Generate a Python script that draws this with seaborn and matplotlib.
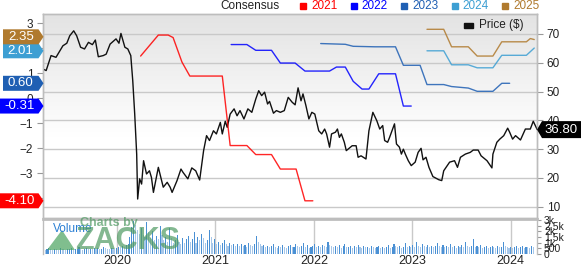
import numpy as np
import pandas as pd
import matplotlib
matplotlib.use("Agg")
import matplotlib.pyplot as plt
import seaborn as sns
from matplotlib.patches import Polygon, Rectangle
from matplotlib.transforms import IdentityTransform

sns.set_theme(style="white")
plt.rcParams['font.family'] = ['Liberation Sans', 'DejaVu Sans']

# ---------------- data ----------------
price_t = [2019.25, 2019.28, 2019.33, 2019.38, 2019.45, 2019.49, 2019.52, 2019.56, 2019.59, 2019.63,
           2019.67, 2019.71, 2019.75, 2019.78, 2019.81, 2019.86, 2019.89, 2019.93, 2019.99,
           2020.02, 2020.04, 2020.08, 2020.11, 2020.14, 2020.16, 2020.18, 2020.20, 2020.21, 2020.23,
           2020.25, 2020.27, 2020.30, 2020.33, 2020.35, 2020.37, 2020.42, 2020.47, 2020.51, 2020.54,
           2020.56, 2020.61, 2020.65, 2020.67, 2020.72, 2020.76, 2020.80, 2020.84, 2020.88, 2020.91,
           2020.94, 2020.98,
           2021.01, 2021.05, 2021.07, 2021.10, 2021.12, 2021.15, 2021.19, 2021.22, 2021.25, 2021.29,
           2021.33, 2021.37, 2021.41, 2021.44, 2021.47, 2021.50, 2021.53, 2021.55, 2021.59, 2021.62,
           2021.66, 2021.70, 2021.74, 2021.78, 2021.81, 2021.84, 2021.87, 2021.89, 2021.92, 2021.95,
           2021.98,
           2022.01, 2022.05, 2022.08, 2022.11, 2022.13, 2022.16, 2022.18, 2022.22, 2022.24, 2022.26,
           2022.28, 2022.31, 2022.33, 2022.39, 2022.43, 2022.45, 2022.48, 2022.53, 2022.56, 2022.60,
           2022.64, 2022.67, 2022.70, 2022.72, 2022.75, 2022.77, 2022.82, 2022.84, 2022.87, 2022.89,
           2022.91, 2022.93, 2022.96, 2022.99,
           2023.03, 2023.06, 2023.09, 2023.11, 2023.14, 2023.17, 2023.21, 2023.27, 2023.30, 2023.32,
           2023.38, 2023.43, 2023.46, 2023.49, 2023.54, 2023.59, 2023.62, 2023.67, 2023.70, 2023.76,
           2023.81, 2023.82, 2023.86, 2023.89, 2023.93, 2023.97, 2023.99,
           2024.02, 2024.05, 2024.10, 2024.15, 2024.20, 2024.23, 2024.27]
price_v = [57.8, 57.3, 62.5, 61.9, 65.9, 66.8, 69.4, 71.1, 69.4, 65.4,
           64.8, 67.1, 66.3, 67.9, 62.1, 62.5, 63.0, 66.5, 68.3,
           66.8, 70.2, 65.4, 64.8, 62.5, 53.8, 42.2, 28.3, 12.7, 19.7,
           17.9, 26.0, 21.4, 22.5, 20.2, 15.0, 23.7, 16.8, 18.5, 16.8,
           15.0, 19.1, 23.1, 22.0, 19.7, 23.5, 22.5, 19.3, 29.5, 34.7,
           33.0, 36.4,
           35.3, 39.3, 35.3, 39.7, 37.6, 42.2, 44.0, 41.6, 43.4, 40.5,
           44.0, 42.8, 47.4, 50.3, 48.6, 49.8, 45.7, 46.6, 42.5, 43.4,
           42.8, 43.4, 48.0, 46.3, 45.4, 51.3, 46.8, 49.2, 45.1, 40.5,
           42.8,
           42.2, 36.4, 35.3, 37.0, 35.3, 30.7, 35.3, 35.9, 37.0, 34.1,
           35.3, 32.4, 29.5, 31.2, 31.2, 27.2, 27.7, 26.6, 36.4, 42.8,
           39.9, 37.0, 38.2, 33.0, 32.4, 34.1, 38.8, 31.8, 30.7, 28.3,
           30.0, 28.3, 26.0, 24.3,
           25.5, 28.9, 30.3, 26.3, 27.2, 23.7, 20.5, 19.4, 19.1, 22.5,
           25.5, 26.0, 23.7, 27.2, 28.3, 28.9, 29.7, 29.7, 27.7, 26.0,
           23.5, 28.3, 32.4, 33.5, 34.7, 37.3, 35.9,
           33.5, 34.7, 33.2, 37.0, 37.0, 39.7, 36.8]

eps21_t = [2020.24, 2020.42, 2020.52, 2020.57, 2020.66, 2020.74, 2021.07, 2021.15, 2021.32, 2021.41,
           2021.57, 2021.66, 2021.82, 2021.91, 2021.99]
eps21_v = [1.69, 2.53, 2.53, 2.43, 1.45, 0.89, 0.89, -1.89, -1.89, -2.25, -2.25, -2.83, -2.83, -4.10, -4.10]

eps22_t = [2021.16, 2021.32, 2021.41, 2021.57, 2021.66, 2021.81, 2021.91, 2022.16, 2022.23, 2022.32,
           2022.40, 2022.49, 2022.56, 2022.66, 2022.83, 2022.91, 2022.99]
eps22_v = [2.15, 2.15, 1.92, 1.92, 1.41, 1.41, 1.09, 1.09, 1.25, 1.25, 0.68, 0.37, 0.37, 0.98, 0.98, -0.31, -0.31]

eps23_t = [2022.07, 2022.32, 2022.40, 2022.62, 2022.83, 2022.91, 2023.08, 2023.15, 2023.32, 2023.40,
           2023.57, 2023.66, 2023.82, 2023.91, 2023.99]
eps23_v = [2.19, 2.16, 2.08, 2.06, 2.06, 1.32, 1.32, 0.55, 0.55, 0.47, 0.41, 0.28, 0.28, 0.60, 0.60]

eps24_t = [2023.15, 2023.32, 2023.40, 2023.57, 2023.66, 2023.82, 2023.91, 2024.16, 2024.24]
eps24_v = [1.90, 1.90, 1.34, 1.34, 1.22, 1.22, 1.72, 1.72, 2.01]

eps25_t = [2023.15, 2023.32, 2023.40, 2023.57, 2023.66, 2023.82, 2023.91, 2024.16, 2024.20, 2024.24]
eps25_v = [2.76, 2.76, 2.06, 2.06, 1.69, 1.69, 2.26, 2.26, 2.39, 2.35]

series_names = ["2021", "2022", "2023", "2024", "2025"]
series_colors = ["#ff0000", "#0000ff", "#1f5fb3", "#3d9fd3", "#b07a2e"]

vol_start = 2019.25
vol_v = [420, 380, 450, 520, 400, 360, 480, 430, 390, 510, 450, 400, 370,
         410, 460, 520, 390, 430, 480, 600, 420, 380, 450, 500, 440, 470,
         420, 510, 480, 550, 430, 460, 600, 520, 480, 440, 560, 500, 470,
         520, 610, 580, 700, 650, 800, 900, 1500, 2400, 2900, 2600, 2100, 1800,
         2300, 1700, 1500, 2800, 1900, 1400, 2000, 1200, 1600, 1300, 2500, 1700, 1200,
         1500, 1100, 2300, 1400, 1000, 1200, 1700, 1100, 900, 1400, 1000, 1300, 1600,
         1100, 1300, 1900, 1000, 1500, 1200, 1800, 1400, 1000, 1200, 2100, 1500, 1000,
         1300, 900, 1100, 800, 1000, 1200, 900, 700, 1000, 800, 900, 700, 850,
         750, 900, 700, 800, 650, 1000, 800, 750, 900, 1600, 1100, 900, 700,
         800, 650, 750, 600, 700, 900, 650, 550, 700, 600, 800, 650, 550,
         700, 800, 600, 650, 900, 750, 600, 700, 1000, 650, 800, 550, 600,
         700, 900, 650, 750, 600, 800, 700, 650, 1100, 800, 700, 600, 750,
         650, 800, 550, 700, 900, 600, 650, 750, 550, 700, 600, 800, 650,
         550, 700, 600, 650, 500, 750, 600, 550, 650, 700, 500, 600, 550,
         600, 800, 550, 650, 900, 700, 600, 750, 550, 650, 1000, 600, 700,
         650, 800, 600, 1100, 750, 650, 900, 700, 600, 800, 650, 750, 600,
         700, 1000, 750, 600, 800, 650, 700, 600, 900, 650, 750, 550, 700,
         600, 800, 650, 1100, 700, 600, 750, 1300, 650, 700, 600, 800, 550,
         650, 700, 550, 600, 750, 650, 550, 700, 600, 650, 1100, 700, 600,
         550, 600, 500, 650, 700, 550, 600, 750, 500, 650, 600, 550, 700,
         600]
vol_t = [vol_start + i * 7 / 365.25 for i in range(len(vol_v))]

year_ticks = [2020, 2021, 2022, 2023, 2024]
price_ticks = [10, 20, 30, 40, 50, 60, 70]
eps_ticks = [-4, -3, -2, -1, 0, 1, 2, 3]
vol_ticks = [0, 500, 1000, 1500, 2000, 2500, 3000]
vol_labels = ["0", "500", "1k", "1.5k", "2k", "2.5k", "3k"]
last_price_label = "36.80"

# ---------------- layout ----------------
W, H = 581, 265
fig = plt.figure(figsize=(W / 100, H / 100), dpi=100)


def box(x0, ytop, x1, ybot):
    return [x0 / W, 1 - ybot / H, (x1 - x0) / W, (ybot - ytop) / H]


XL = (2019.248, 2024.268)
GRID = "#c9c9c9"
SPINE = "#bdbdbd"
TXT = "#222222"

ax_p = fig.add_axes(box(43, 14, 537, 218))
ax_e = ax_p.twinx()
ax_v = fig.add_axes(box(43, 219, 537, 254))

# gradient background in the price panel
grad = np.ones((200, 1, 3))
tt = np.linspace(0, 1, 200)[:, None]
shade = np.clip(1 - tt / 0.6, 0, 1)
grad[..., :] = (1 - 0.11 * shade)[..., None]
ax_p.imshow(grad, extent=(0, 1, 0, 1), transform=ax_p.transAxes, aspect="auto",
            zorder=0, interpolation="bilinear")

# price line
sns.lineplot(x=price_t, y=price_v, ax=ax_p, color="#111111", linewidth=1.0,
             estimator=None, sort=False, zorder=3)

# consensus lines
eps_t = [eps21_t, eps22_t, eps23_t, eps24_t, eps25_t]
eps_v = [eps21_v, eps22_v, eps23_v, eps24_v, eps25_v]
for t, v, c in zip(eps_t, eps_v, series_colors):
    sns.lineplot(x=t, y=v, ax=ax_e, color=c, linewidth=1.0, alpha=0.85,
                 estimator=None, sort=False)

# volume bars
vol_colors = ["#4a90d4" if i > 0 and vol_v[i] > vol_v[i - 1] else "#a7c7e9"
              for i in range(len(vol_v))]
ax_v.bar(vol_t, vol_v, width=0.011, color=vol_colors, linewidth=0, zorder=2)

# ---------------- axes styling ----------------
ax_p.set_xlim(*XL)
ax_p.set_ylim(6.11, 76.94)
ax_e.set_xlim(*XL)
ax_e.set_ylim(-4.788, 3.372)
ax_v.set_xlim(*XL)
ax_v.set_ylim(0, 3090)

ax_p.set_xlabel("")
ax_p.set_ylabel("")
ax_e.set_xlabel("")
ax_e.set_ylabel("")
ax_e.patch.set_visible(False)

ax_p.set_xticks(year_ticks)
ax_p.set_yticks(price_ticks)
ax_p.yaxis.tick_right()
ax_p.grid(True, color=GRID, linewidth=1.0, zorder=1)
ax_p.set_axisbelow(True)
ax_p.tick_params(axis="x", length=0, labelbottom=False)
ax_p.tick_params(axis="y", right=True, left=False, labelright=True, labelleft=False,
                 length=4, width=0.8, color="#999999", labelsize=8.5, pad=3, labelcolor=TXT)

ax_e.yaxis.tick_left()
ax_e.set_yticks(eps_ticks)
ax_e.set_xticks([])
ax_e.tick_params(axis="y", left=True, right=False, labelleft=True, labelright=False,
                 length=4, width=0.8, color="#999999", labelsize=8.5, pad=3, labelcolor=TXT)

for a in (ax_p, ax_e):
    for s in a.spines.values():
        s.set_color(SPINE)
        s.set_linewidth(1.0)

ax_v.set_xticks(year_ticks)
ax_v.set_xticklabels([str(y) for y in year_ticks])
ax_v.set_yticks(vol_ticks)
ax_v.set_yticklabels(vol_labels)
ax_v.yaxis.tick_right()
ax_v.grid(True, axis="x", color=GRID, linewidth=1.0, zorder=0)
ax_v.set_axisbelow(True)
ax_v.tick_params(axis="x", length=0, labelsize=9, pad=0.5, labelcolor=TXT)
ax_v.tick_params(axis="y", right=True, left=False, labelright=True, labelleft=False,
                 length=3, width=0.8, color="#999999", labelsize=7.5, pad=2, labelcolor=TXT)
ax_v.set_facecolor("white")
for k, s in ax_v.spines.items():
    s.set_color(SPINE)
    s.set_linewidth(1.0)
ax_v.spines["top"].set_linewidth(2.0)
ax_v.spines["bottom"].set_visible(False)

# ---------------- legend (top) ----------------
ID = IdentityTransform()
fig.text(220 / W, 1 - 6 / H, "Consensus", fontsize=8.5, color=TXT, va="center", ha="left")
for i, (name, c) in enumerate(zip(series_names, series_colors)):
    sx = 300 + 50.5 * i
    fig.add_artist(Rectangle((sx, H - 9), 6, 6, color=c, transform=ID))
    fig.text((sx + 11) / W, 1 - 6 / H, name, fontsize=8.5, color=c, va="center", ha="left")

# price legend inside panel
fig.add_artist(Rectangle((464, H - 27.5), 9, 5, color="#111111", transform=ID, zorder=5))
fig.text(479 / W, 1 - 25 / H, "Price ($)", fontsize=8.5, color=TXT, va="center", ha="left",
         zorder=5)

# ---------------- value tags ----------------
fig.canvas.draw()
tags = []
for v, c in zip([s[-1] for s in eps_v], series_colors):
    y = ax_e.transData.transform((XL[0], v))[1]
    tags.append([y, v, c])
# push overlapping tags apart
order = sorted(range(len(tags)), key=lambda k: tags[k][0])
for _ in range(5):
    for a_i, b_i in zip(order[:-1], order[1:]):
        gap = tags[b_i][0] - tags[a_i][0]
        if gap < 14:
            d = (14 - gap) / 2
            tags[a_i][0] -= d
            tags[b_i][0] += d

for k in range(len(tags)):
    y, v, c = tags[k]
    s = f"{v:.2f}"
    x0 = 0 if len(s) >= 5 else 3
    poly = Polygon([(x0, y - 7.5), (38.5, y - 7.5), (43.5, y), (38.5, y + 7.5), (x0, y + 7.5)],
                   closed=True, facecolor=c, edgecolor="none", transform=ID, zorder=10)
    fig.add_artist(poly)
    fig.text((x0 + 38.5) / 2 / W, y / H, s, fontsize=9.5, color="white",
             ha="center", va="center", zorder=11)

yp = ax_p.transData.transform((XL[1], price_v[-1]))[1]
fig.add_artist(Polygon([(537, yp), (542, yp - 8.5), (581, yp - 8.5), (581, yp + 8.5), (542, yp + 8.5)],
                       closed=True, facecolor="#000000", edgecolor="none", transform=ID, zorder=10))
fig.text(561.5 / W, yp / H, last_price_label, fontsize=9.5, color="white",
         ha="center", va="center", zorder=11)

# ---------------- watermark / volume label ----------------
fig.text(53 / W, 1 - 229 / H, "Volume", fontsize=8.5, color="#2a7fd4", ha="left", va="center", zorder=6)
fig.text(80 / W, 1 - 223 / H, "Charts by", fontsize=9, color="#4f9a62", alpha=0.7,
         ha="left", va="center", fontweight="bold", zorder=6)
fig.text(75 / W, 1 - 241 / H, "ZACKS", fontsize=22, color="#4f9a62", alpha=0.7,
         ha="left", va="center", fontweight="bold", zorder=6)
fig.add_artist(Polygon([(47, H - 250), (75, H - 250), (62, H - 230)], closed=True,
                       facecolor="#4aa35f", alpha=0.7, edgecolor="none", transform=ID, zorder=6))

fig.savefig("out.png", dpi=100)
